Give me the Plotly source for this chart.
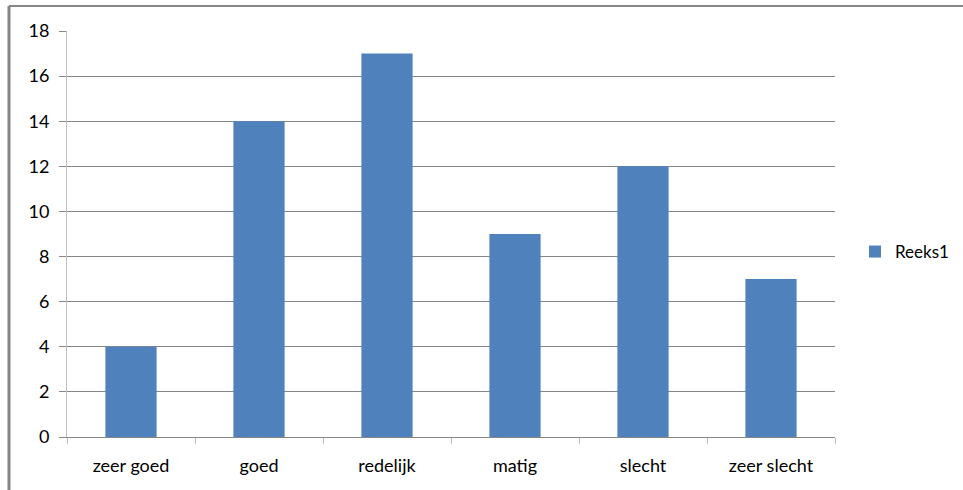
import plotly.graph_objects as go

categories = ["zeer goed", "goed", "redelijk", "matig", "slecht", "zeer slecht"]
values = [4, 14, 17, 9, 12, 7]
series_name = "Reeks1"
y_ticks = [0, 2, 4, 6, 8, 10, 12, 14, 16, 18]

W, H = 963, 490
L, R, T, B = 67, 128, 31, 53
pw, ph = W - L - R, H - T - B

def px_x(p):
    return (p - L) / pw

def px_y(p):
    return (H - B - p) / ph

font = "Lato, Open Sans, sans-serif"

fig = go.Figure()
fig.add_trace(go.Bar(
    x=categories, y=values, name=series_name,
    marker=dict(color="#4f81bd", line=dict(width=0)),
    width=0.4,
))

fig.update_layout(
    width=W, height=H,
    margin=dict(l=L, r=R, t=T, b=B, pad=0, autoexpand=False),
    paper_bgcolor="white", plot_bgcolor="white",
    font=dict(family=font, size=18, color="#000000"),
    showlegend=True,
    legend=dict(x=px_x(855), y=px_y(252), xanchor="left", yanchor="middle",
                font=dict(size=17), bgcolor="rgba(0,0,0,0)"),
    bargap=0.6,
    xaxis=dict(
        type="category", showgrid=False, showline=True, linecolor="#868686", linewidth=1,
        ticks="outside", tickson="boundaries", ticklen=6, tickcolor="#bfbfbf",
        tickfont=dict(size=18), ticklabelstandoff=12, fixedrange=True,
    ),
    yaxis=dict(
        range=[0, 18], tickvals=y_ticks, showgrid=True, gridcolor="#868686", gridwidth=1,
        showline=True, linecolor="#bfbfbf", linewidth=1, zeroline=False,
        ticks="outside", ticklen=7, tickcolor="#868686",
        tickfont=dict(size=18), ticklabelstandoff=6,
    ),
    shapes=[
        dict(type="line", xref="paper", yref="paper",
             x0=px_x(9), x1=px_x(963), y0=px_y(6), y1=px_y(6),
             line=dict(color="#868686", width=2)),
        dict(type="line", xref="paper", yref="paper",
             x0=px_x(9), x1=px_x(9), y0=px_y(6), y1=px_y(490),
             line=dict(color="#868686", width=3)),
    ],
)

fig.write_html("out.html")
